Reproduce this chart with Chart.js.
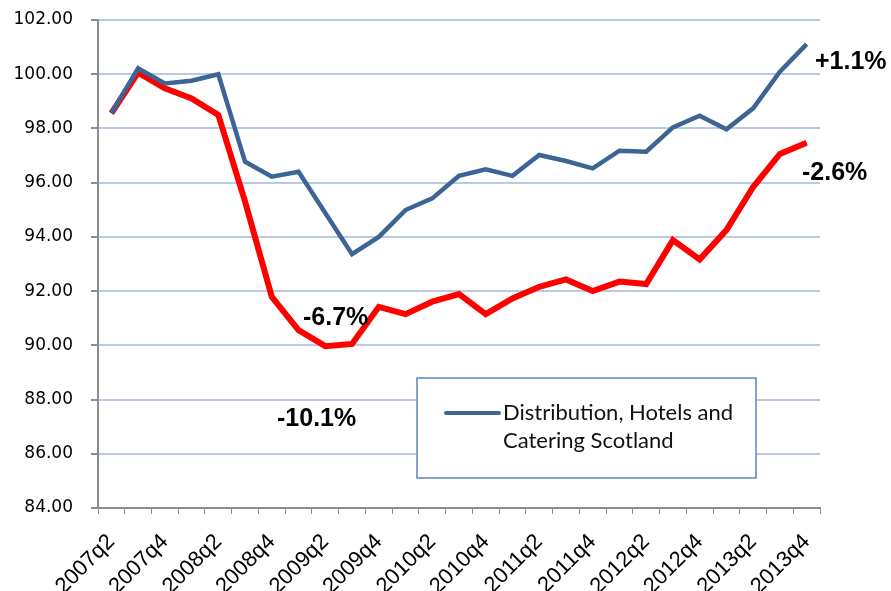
<!DOCTYPE html>
<html><head><meta charset="utf-8">
<script src="https://cdn.jsdelivr.net/npm/chart.js@4.4.1/dist/chart.umd.min.js"></script>
<style>html,body{margin:0;padding:0;background:#fff}#wrap{width:891px;height:591px}</style>
</head><body><div id="wrap"><canvas id="c" width="891" height="591"></canvas></div>
<script>
const categories = ["2007q2","2007q3","2007q4","2008q1","2008q2","2008q3","2008q4","2009q1","2009q2","2009q3","2009q4","2010q1","2010q2","2010q3","2010q4","2011q1","2011q2","2011q3","2011q4","2012q1","2012q2","2012q3","2012q4","2013q1","2013q2","2013q3","2013q4"];
const blueSeries = [98.56,100.22,99.66,99.76,100.0,96.77,96.22,96.40,94.88,93.36,94.0,94.99,95.42,96.25,96.49,96.25,97.02,96.80,96.53,97.18,97.14,98.04,98.47,97.97,98.74,100.09,101.11];
const redSeries = [98.56,100.06,99.48,99.11,98.50,95.30,91.79,90.56,89.97,90.05,91.42,91.15,91.61,91.89,91.15,91.73,92.16,92.43,92.00,92.35,92.26,93.88,93.17,94.25,95.84,97.06,97.47];
const yTicks = [84,86,88,90,92,94,96,98,100,102];
const notes = [
  {text:"+1.1%", x:815, y:62},
  {text:"-2.6%", x:802, y:173},
  {text:"-6.7%", x:303, y:318},
  {text:"-10.1%", x:277, y:419}
];
const blueLabel = "Distribution, Hotels and Catering Scotland";
const blueLabelLines = ["Distribution, Hotels and","Catering Scotland"];

Chart.defaults.font.family = 'DejaVu Sans';
Chart.defaults.font.size = 17;

const overlay = {
  id:'overlay',
  afterDatasetsDraw(chart){
    const ctx = chart.ctx;
    ctx.save();
    ctx.fillStyle = '#000';
    ctx.font = 'bold 25px "Liberation Sans", Arial, sans-serif';
    ctx.textAlign = 'left'; ctx.textBaseline = 'middle';
    notes.forEach(n => ctx.fillText(n.text, n.x, n.y));
    // legend box
    ctx.fillStyle = '#fff';
    ctx.fillRect(417, 378, 339, 100);
    ctx.strokeStyle = '#5b86c2'; ctx.lineWidth = 1.5;
    ctx.strokeRect(417, 378, 339, 100);
    const ds = chart.data.datasets[0];
    ctx.strokeStyle = ds.borderColor; ctx.lineWidth = 4; ctx.lineCap='round';
    ctx.beginPath(); ctx.moveTo(446, 413); ctx.lineTo(499, 413); ctx.stroke();
    ctx.fillStyle = '#111';
    ctx.font = '22px Lato, sans-serif';
    ctx.fillText(blueLabelLines[0], 503, 413);
    ctx.fillText(blueLabelLines[1], 503, 441);
    ctx.restore();
  }
};

new Chart(document.getElementById('c'), {
  type:'line',
  data:{
    labels: categories,
    datasets:[
      {label: blueLabel, data: blueSeries, borderColor:'#3c6595', borderWidth:4.5, pointRadius:0, tension:0, fill:false},
      {label: 'Red', data: redSeries, borderColor:'#ff0000', borderWidth:6, pointRadius:0, tension:0, fill:false}
    ]
  },
  options:{
    responsive:false, animation:false,
    layout:{padding:{top:20, right:71, left:0, bottom:0}},
    plugins:{legend:{display:false}, tooltip:{enabled:false}},
    scales:{
      x:{
        type:'category', offset:true,
        grid:{display:true, drawOnChartArea:false, offset:true, tickLength:6, tickColor:'#8c8c8c', color:'#8c8c8c'},
        border:{display:true, color:'#8c8c8c', width:2},
        ticks:{autoSkip:false, maxRotation:45, minRotation:45, color:'#000', padding:15,
          font:{family:'Liberation Sans', size:22},
          callback:function(v,i){ return i%2===0 ? categories[i] : ''; }},
        afterFit(s){ s.height = 83; s.paddingTop = 0; s.paddingBottom = 0; s.paddingLeft = 0; s.paddingRight = 0; }
      },
      y:{
        min:84, max:102,
        afterBuildTicks(s){ s.ticks = yTicks.map(v=>({value:v})); },
        grid:{color:'#b8c9e6', lineWidth:2, tickLength:7, tickColor:'#8c8c8c'},
        border:{display:true, color:'#8c8c8c', width:2},
        ticks:{color:'#000', padding:18, font:{family:'DejaVu Sans', size:17},
          callback:v=>Number(v).toFixed(2)},
        afterFit(s){ s.width = 98; s.paddingTop = 0; s.paddingBottom = 0; s.paddingLeft = 0; s.paddingRight = 0; }
      }
    }
  },
  plugins:[overlay]
});
</script></body></html>
